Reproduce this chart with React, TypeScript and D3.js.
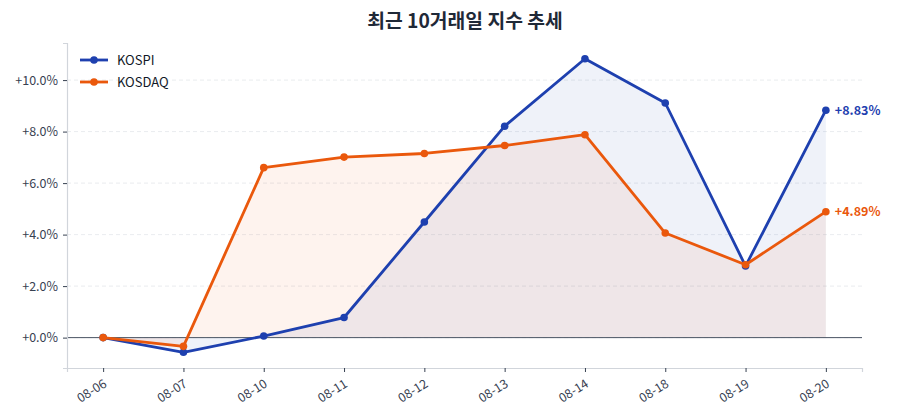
import { useEffect, useRef } from 'react';
import * as d3 from 'd3';

const dates = ['08-06', '08-07', '08-10', '08-11', '08-12', '08-13', '08-14', '08-18', '08-19', '08-20'];
const kospi = [0, -0.57, 0.06, 0.78, 4.49, 8.21, 10.83, 9.11, 2.78, 8.83];
const kosdaq = [0, -0.34, 6.6, 7.01, 7.15, 7.46, 7.88, 4.06, 2.83, 4.89];
const yTicks = [0, 2, 4, 6, 8, 10];

const series = [
  { name: 'KOSPI', values: kospi, color: '#1e40af' },
  { name: 'KOSDAQ', values: kosdaq, color: '#ea580c' },
];

const FONT = '"Noto Sans CJK KR", "Noto Sans", sans-serif';

export default function App() {
  const svgRef = useRef<SVGSVGElement>(null);

  useEffect(() => {
    if (!svgRef.current) return;
    const svg = d3.select(svgRef.current);
    svg.selectAll('*').remove();

    const margin = { top: 43, right: 38, bottom: 52, left: 67 };
    const width = 900 - margin.left - margin.right;
    const height = 420 - margin.top - margin.bottom;

    const g = svg.append('g').attr('transform', `translate(${margin.left},${margin.top})`);

    const x = d3.scaleLinear().domain([-0.45, dates.length - 1 + 0.45]).range([0, width]);
    const y = d3.scaleLinear().domain([-1.18, 11.44]).range([height, 0]);

    // Grid
    g.selectAll('.grid')
      .data(yTicks)
      .enter()
      .append('line')
      .attr('x1', 0)
      .attr('x2', width)
      .attr('y1', d => y(d))
      .attr('y2', d => y(d))
      .attr('stroke', '#e5e7eb')
      .attr('stroke-dasharray', '4,3')
      .attr('stroke-width', 0.8);

    // Fills
    series.forEach(s => {
      const area = d3.area<number>()
        .x((_, i) => x(i))
        .y0(y(0))
        .y1(d => y(d));
      g.append('path')
        .datum(s.values)
        .attr('d', area)
        .attr('fill', s.color)
        .attr('fill-opacity', 0.07);
    });

    // Zero line
    g.append('line')
      .attr('x1', 0)
      .attr('x2', width)
      .attr('y1', y(0))
      .attr('y2', y(0))
      .attr('stroke', '#4b5563')
      .attr('stroke-width', 1);

    // Lines and points
    series.forEach(s => {
      const line = d3.line<number>().x((_, i) => x(i)).y(d => y(d));
      g.append('path')
        .datum(s.values)
        .attr('d', line)
        .attr('fill', 'none')
        .attr('stroke', s.color)
        .attr('stroke-width', 2.8)
        .attr('stroke-linejoin', 'round');
      g.selectAll(null)
        .data(s.values)
        .enter()
        .append('circle')
        .attr('cx', (_, i) => x(i))
        .attr('cy', d => y(d))
        .attr('r', 3.8)
        .attr('fill', s.color);

      const last = s.values[s.values.length - 1];
      g.append('text')
        .attr('x', x(s.values.length - 1) + 9)
        .attr('y', y(last) + 4.5)
        .attr('fill', s.color)
        .style('font-family', FONT)
        .style('font-size', '12.5px')
        .style('font-weight', 'bold')
        .text(`+${last.toFixed(2)}%`);
    });

    // Y axis
    const yAxis = g.append('g')
      .call(d3.axisLeft(y).tickValues(yTicks).tickSize(4).tickPadding(5)
        .tickFormat(d => `+${(d as number).toFixed(1)}%`));
    yAxis.select('.domain').attr('stroke', '#d1d5db').attr('stroke-width', 1.2);
    yAxis.selectAll('.tick line').attr('stroke', '#374151');
    yAxis.selectAll('text')
      .attr('fill', '#374151')
      .style('font-family', FONT)
      .style('font-size', '12.5px');

    // X axis
    const xAxis = g.append('g')
      .attr('transform', `translate(0,${height})`)
      .call(d3.axisBottom(x).tickValues(d3.range(dates.length)).tickSize(4)
        .tickFormat(d => dates[d as number]));
    xAxis.select('.domain').attr('stroke', '#d1d5db').attr('stroke-width', 1.2);
    xAxis.selectAll('.tick line').attr('stroke', '#374151');
    xAxis.selectAll('text')
      .attr('fill', '#374151')
      .style('font-family', FONT)
      .style('font-size', '12.5px')
      .style('text-anchor', 'end')
      .attr('x', 0)
      .attr('y', 0)
      .attr('dy', '0.75em')
      .attr('transform', 'translate(-1,10) rotate(-32)');

    // Legend
    const legend = g.append('g').attr('transform', 'translate(13,17)');
    series.forEach((s, i) => {
      const ly = i * 22;
      legend.append('line')
        .attr('x1', 0).attr('x2', 28).attr('y1', ly).attr('y2', ly)
        .attr('stroke', s.color).attr('stroke-width', 2.8);
      legend.append('circle')
        .attr('cx', 14).attr('cy', ly).attr('r', 3.8).attr('fill', s.color);
      legend.append('text')
        .attr('x', 37).attr('y', ly + 4.5)
        .attr('fill', '#111827')
        .style('font-family', FONT)
        .style('font-size', '13px')
        .text(s.name);
    });

    // Title
    svg.append('text')
      .attr('x', 465)
      .attr('y', 28)
      .attr('text-anchor', 'middle')
      .attr('fill', '#1f2937')
      .style('font-family', FONT)
      .style('font-size', '19.3px')
      .style('font-weight', 'bold')
      .text('최근 10거래일 지수 추세');
  }, []);

  return (
    <svg
      ref={svgRef}
      width={900}
      height={420}
      style={{ position: 'absolute', left: 0, top: 0, background: '#fff' }}
    />
  );
}
